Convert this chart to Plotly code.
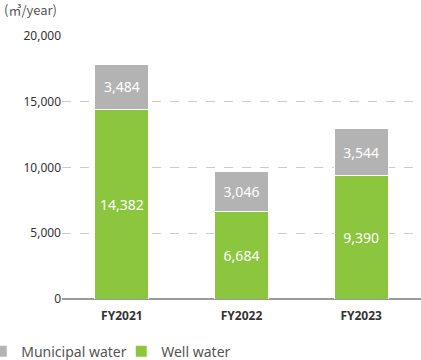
import plotly.graph_objects as go

years = ["FY2021", "FY2022", "FY2023"]
well = [14382, 6684, 9390]
municipal = [3484, 3046, 3544]

fig = go.Figure()
fig.add_trace(go.Bar(
    x=years, y=well, name="Well water",
    marker=dict(color="#8cc63f", line=dict(color="white", width=1)),
    text=[f"{v:,}" for v in well], textposition="inside", insidetextanchor="middle",
    textfont=dict(color="white", size=14),
))
fig.add_trace(go.Bar(
    x=years, y=municipal, name="Municipal water",
    marker=dict(color="#b3b3b3", line=dict(color="white", width=1)),
    text=[f"{v:,}" for v in municipal], textposition="inside", insidetextanchor="middle",
    textfont=dict(color="white", size=14),
))

fig.update_layout(
    barmode="stack",
    bargap=0.55,
    width=421, height=360,
    margin=dict(l=62, r=0, t=36, b=61, autoexpand=False),
    paper_bgcolor="white", plot_bgcolor="white",
    font=dict(family="Noto Sans, DejaVu Sans, sans-serif", color="#333", size=12),
    uniformtext=dict(mode="show", minsize=14),
    showlegend=True,
    legend=dict(orientation="h", traceorder="reversed", x=-0.225, xanchor="left",
                y=-0.2, yanchor="middle",
                font=dict(size=14, color="#555"), itemwidth=30, tracegroupgap=0,
                entrywidth=95),
    xaxis=dict(showgrid=False, showline=False, ticks="", automargin=False,
               ticklabelstandoff=8,
               tickfont=dict(size=12, color="#333", family="Noto Sans, sans-serif", weight="bold")),
    yaxis=dict(range=[0, 20000], dtick=5000, tickformat=",", showgrid=True, automargin=False,
               gridcolor="#cccccc", griddash="dash", gridwidth=1,
               zeroline=True, zerolinecolor="#999999", zerolinewidth=2,
               ticks="", tickfont=dict(size=12, color="#333")),
    annotations=[dict(text="(㎥/year)", xref="paper", yref="paper", x=-0.168, y=1.099,
                      xanchor="left", yanchor="middle", showarrow=False,
                      font=dict(size=13, color="#555", family="Noto Sans CJK JP, Noto Sans, sans-serif"))],
)

fig.write_html("out.html", config={"displayModeBar": False},
               post_script="document.body.style.margin='0';document.body.style.padding='0';")
